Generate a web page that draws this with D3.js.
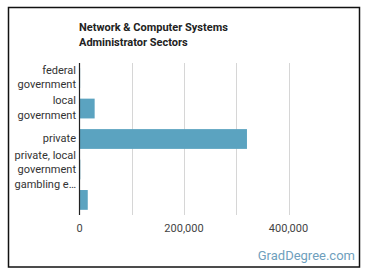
<!DOCTYPE html>
<head>
    <meta charset=utf-8>
    <title>Sectors</title>
    <script src="https://d3js.org/d3.v7.min.js"></script>
    <style>
        body { margin: 0; background: #fff; }
        text { font-family: Roboto, sans-serif; }
    </style>
</head>
<body>
    <script type="text/javascript">
        // data
        var sectors = ["federal government", "local government", "private", "private, local government gambling e\u2026", ""],
            employed = [1200, 29000, 320500, 1500, 15800],
            xticks = [0, 200000, 400000],
            xgrid = [0, 100000, 200000, 300000, 400000];

        var svg_dx = 370, svg_dy = 278,
            margin = {top: 63, right: 20, bottom: 63, left: 79.5};

        var svg = d3.select("body")
                .append("svg")
                .attr("width", svg_dx)
                .attr("height", svg_dy);

        // frame
        svg.append("rect")
            .attr("x", 8.5).attr("y", 7.5)
            .attr("width", 351).attr("height", 259.5)
            .attr("fill", "#fff")
            .attr("stroke", "#111")
            .attr("stroke-width", 1.5);

        var x = d3.scaleLinear().domain([0, 400000]).range([margin.left, 288.5]),
            y = d3.scaleBand().domain(d3.range(sectors.length))
                    .range([margin.top, svg_dy - margin.bottom]).paddingInner(0.35).paddingOuter(0.17);

        // title
        svg.append("text")
            .attr("x", 79).attr("y", 31)
            .attr("font-size", "11px").attr("font-weight", "bold").attr("fill", "#222")
            .text("Network & Computer Systems");
        svg.append("text")
            .attr("x", 79).attr("y", 46)
            .attr("font-size", "11px").attr("font-weight", "bold").attr("fill", "#222")
            .text("Administrator Sectors");

        // grid
        svg.append("g")
            .selectAll("line")
            .data(xgrid.slice(1))
            .enter()
            .append("line")
            .attr("x1", d => Math.round(x(d)) + 0.5).attr("x2", d => Math.round(x(d)) + 0.5)
            .attr("y1", margin.top).attr("y2", svg_dy - margin.bottom)
            .attr("stroke", "#d6d6d6");

        // bars
        svg.append("g")
            .selectAll("rect")
            .data(employed)
            .enter()
            .append("rect")
            .attr("x", x(0))
            .attr("y", (d, i) => y(i))
            .attr("width", d => x(d) - x(0))
            .attr("height", y.bandwidth())
            .attr("fill", "#5ba3c0");

        // y axis line
        svg.append("line")
            .attr("x1", x(0)).attr("x2", x(0))
            .attr("y1", margin.top).attr("y2", svg_dy - margin.bottom)
            .attr("stroke", "#222").attr("stroke-width", 1.2);

        // x tick labels
        svg.append("g")
            .selectAll("text")
            .data(xticks)
            .enter()
            .append("text")
            .attr("x", d => x(d))
            .attr("y", 232)
            .attr("text-anchor", "middle")
            .attr("font-size", "11px").attr("fill", "#444")
            .text(d => d3.format(",")(d));

        // category labels, wrapped
        var wrapped = [["federal", "government"], ["local", "government"], ["private"],
                       ["private, local", "government", "gambling e\u2026"], []];
        var lineH = 14.5;
        sectors.forEach(function (s, i) {
            var lines = wrapped[i],
                cy = y(i) + y.bandwidth() / 2,
                y0 = cy - (lines.length - 1) * lineH / 2 + 3;
            if (i == 3) y0 = y(i) - 1;
            lines.forEach(function (l, j) {
                svg.append("text")
                    .attr("x", 76)
                    .attr("y", y0 + j * lineH)
                    .attr("text-anchor", "end")
                    .attr("font-size", "11px").attr("fill", "#333")
                    .text(l);
            });
        });

        // source
        svg.append("text")
            .attr("x", 355).attr("y", 260)
            .attr("text-anchor", "end")
            .attr("font-size", "13px").attr("fill", "#6f9fbd")
            .text("GradDegree.com");
    </script>
</body>
